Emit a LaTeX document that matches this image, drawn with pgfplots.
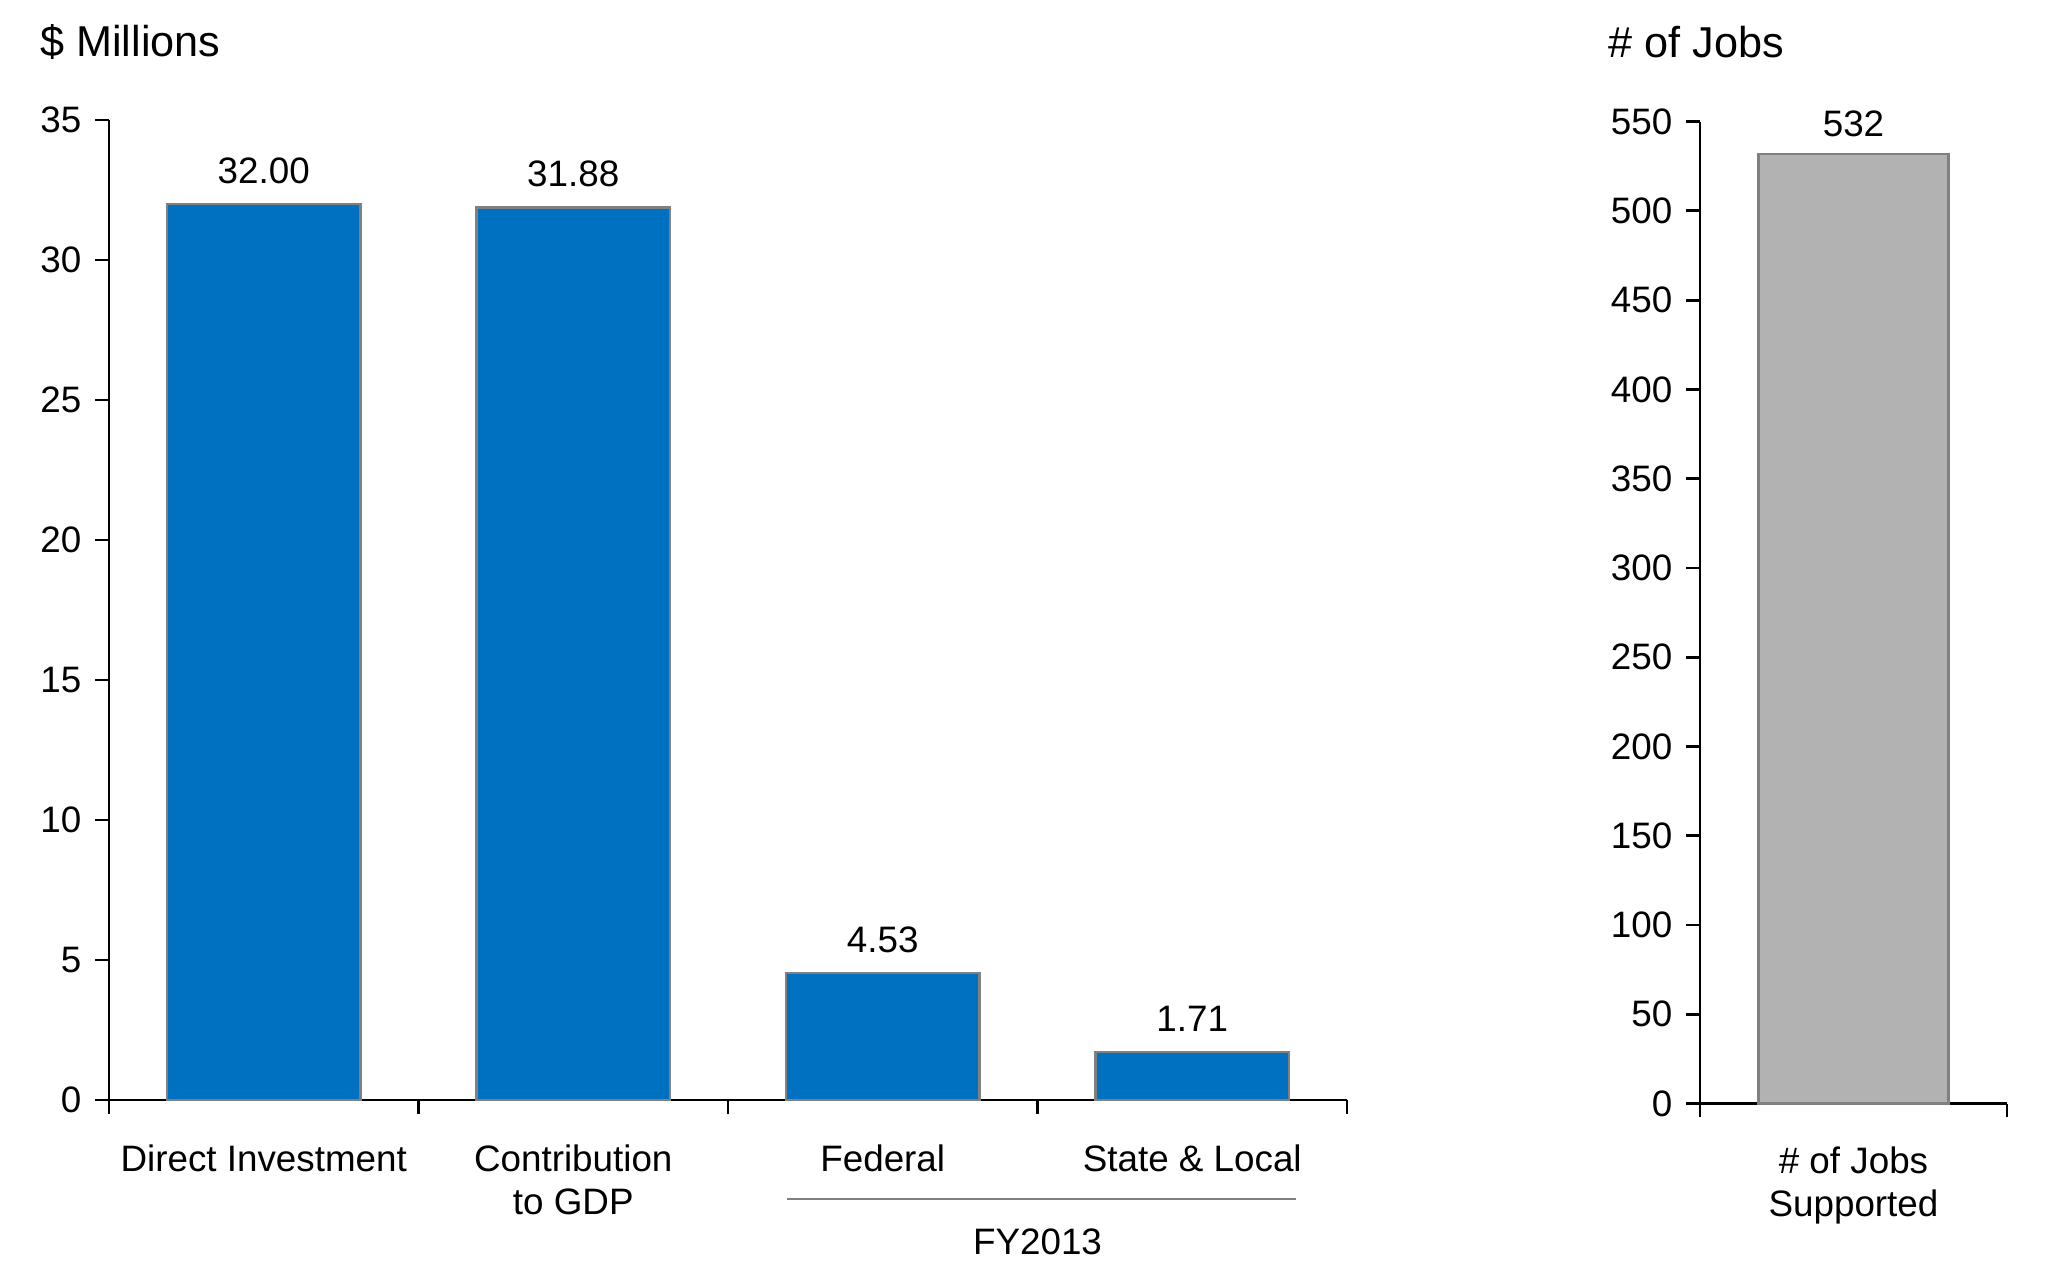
\documentclass[border=0pt]{standalone}
\usepackage{fontspec}
\setmainfont{Liberation Sans}
\usepackage{pgfplots}
\pgfplotsset{compat=1.18}
\definecolor{barblue}{HTML}{0070C0}
\definecolor{bargray}{HTML}{B2B2B2}
\definecolor{edgegray}{HTML}{808080}
\newcommand{\lbl}{\fontsize{9.2}{11}\selectfont}

\begin{document}
\begin{tikzpicture}
\path[use as bounding box] (0,0) rectangle (512pt,-317.75pt);
\node[anchor=west, inner sep=0, font=\fontsize{10.8}{13}\selectfont] at (9.9pt,-10.5pt) {\$ Millions};
\node[anchor=west, inner sep=0, font=\fontsize{10.8}{13}\selectfont] at (401.9pt,-10.5pt) {\# of Jobs};

% left panel: $ millions
\begin{axis}[
  at={(27.25pt,-275pt)}, anchor=south west,
  scale only axis, width=309.5pt, height=245pt,
  xmin=-0.5, xmax=3.5, ymin=0, ymax=35,
  axis x line*=bottom, axis y line*=left,
  axis line style={black, line width=0.7pt, -},
  ytick={0,5,...,35},
  xtick={-0.5,0.5,1.5,2.5,3.5}, xticklabels={},
  tick align=outside, major tick length=3.4pt,
  tick style={black, line width=0.7pt},
  ticklabel style={font=\lbl},
  /pgf/number format/assume math mode=true,
  ybar, bar width=0.625,
  nodes near coords={\pgfmathprintnumber[fixed,fixed zerofill,precision=2]{\pgfplotspointmeta}},
  every node near coord/.append style={font=\lbl, yshift=1.5pt, black},
  clip=false,
]
\addplot[fill=barblue, draw=edgegray, line width=0.6pt] coordinates {(0,32.00) (1,31.88) (2,4.53) (3,1.71)};
\node[anchor=base, font=\lbl] at ([yshift=-17.75pt]axis cs:0,0) {Direct Investment};
\node[anchor=base, font=\lbl] at ([yshift=-17.75pt]axis cs:1,0) {Contribution};
\node[anchor=base, font=\lbl] at ([yshift=-28.5pt]axis cs:1,0) {to GDP};
\node[anchor=base, font=\lbl] at ([yshift=-17.75pt]axis cs:2,0) {Federal};
\node[anchor=base, font=\lbl] at ([yshift=-17.75pt]axis cs:3,0) {State \& Local};
\draw[edgegray, line width=0.6pt] ([yshift=-24.75pt]axis cs:1.69,0) -- ([yshift=-24.75pt]axis cs:3.335,0);
\node[anchor=base, font=\lbl] at ([yshift=-38.5pt]axis cs:2.5,0) {FY2013};
\end{axis}

% right panel: jobs
\begin{axis}[
  at={(425pt,-275.9pt)}, anchor=south west,
  scale only axis, width=76.75pt, height=245.5pt,
  xmin=0, xmax=1, ymin=0, ymax=550,
  axis x line*=bottom, axis y line*=left,
  axis line style={black, line width=0.7pt, -},
  ytick={0,50,...,550},
  xtick={0,1}, xticklabels={},
  tick align=outside, major tick length=3.4pt,
  tick style={black, line width=0.7pt},
  ticklabel style={font=\lbl},
  /pgf/number format/assume math mode=true,
  ybar, bar width=0.62,
  nodes near coords,
  every node near coord/.append style={font=\lbl, yshift=0.5pt, black},
  clip=false,
]
\addplot[fill=bargray, draw=edgegray, line width=0.6pt] coordinates {(0.5,532)};
\node[anchor=base, font=\lbl] at ([yshift=-17.4pt]axis cs:0.5,0) {\# of Jobs};
\node[anchor=base, font=\lbl] at ([yshift=-28.3pt]axis cs:0.5,0) {Supported};
\end{axis}
\end{tikzpicture}
\end{document}
